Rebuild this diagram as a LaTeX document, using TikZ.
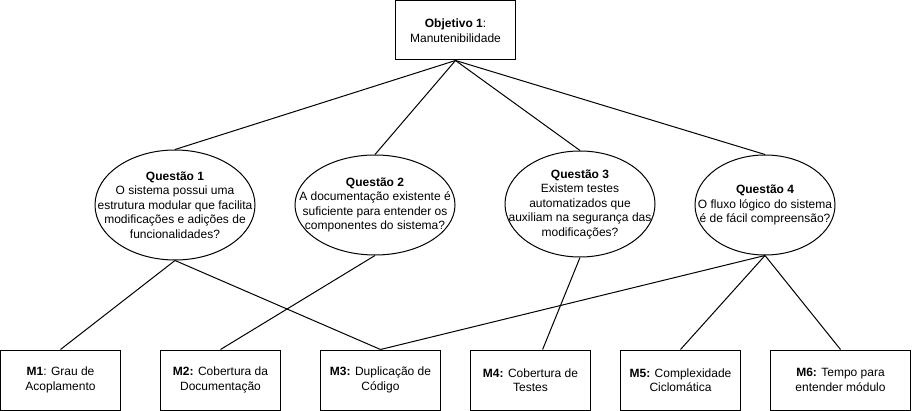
\documentclass[tikz,border=0pt]{standalone}
\usepackage{fontspec}
\setmainfont{Liberation Sans}
\usepackage{tikz}
\usetikzlibrary{positioning, shapes.geometric, calc}

\begin{document}
\begin{tikzpicture}[
    x=1pt, y=-1pt,
    every node/.style={font=\fontsize{12}{14.5}\selectfont, align=center},
    goal/.style={draw, line width=1pt, minimum width=120pt, minimum height=59pt, inner sep=0pt},
    quest/.style={draw, ellipse, line width=1pt, inner xsep=-60pt, inner ysep=-30pt},
    metric/.style={draw, line width=1pt, minimum width=120pt, minimum height=60pt, inner sep=0pt},
    link/.style={line width=1pt},
]
    \useasboundingbox (0,0) rectangle (912,411);
    \node[goal] (obj) at (455.5,30.5) {\textbf{Objetivo 1}:\\Manutenibilidade};

    \node[quest, minimum width=160pt, minimum height=110pt] (q1) at (175,205)
        {\textbf{Questão 1}\\O sistema possui uma\\estrutura modular que facilita\\modificações e adições de\\funcionalidades?};
    \node[quest, minimum width=160pt, minimum height=100pt] (q2) at (375,205)
        {\textbf{Questão 2}\\A documentação existente é\\suficiente para entender os\\componentes do sistema?};
    \node[quest, minimum width=150pt, minimum height=106pt] (q3) at (580,204)
        {\textbf{Questão 3}\\Existem testes\\automatizados que\\auxiliam na segurança das\\modificações?};
    \node[quest, minimum width=140pt, minimum height=100pt] (q4) at (765,205)
        {\textbf{Questão 4}\\O fluxo lógico do sistema\\é de fácil compreensão?};

    \node[metric] (m1) at (60.5,380) {\textbf{M1}: Grau de\\Acoplamento};
    \node[metric, right=39pt of m1] (m2) {\textbf{M2:} Cobertura da\\Documentação};
    \node[metric, right=39pt of m2] (m3) {\textbf{M3:} Duplicação de\\Código};
    \node[metric, right=29pt of m3] (m4) {\textbf{M4:} Cobertura de\\Testes};
    \node[metric, right=29pt of m4] (m5) {\textbf{M5:} Complexidade\\Ciclomática};
    \node[metric, right=29pt of m5, minimum width=140pt] (m6) {\textbf{M6:} Tempo para\\entender módulo};

    \draw[link] (obj.south) -- (q1.north);
    \draw[link] (obj.south) -- (q2.north);
    \draw[link] (obj.south) -- (q3.north);
    \draw[link] (obj.south) -- (q4.north);

    \draw[link] (q1.south) -- (m1.north);
    \draw[link] (q1.south) -- (m3.north);
    \draw[link] (q2.south) -- (m2.north);
    \draw[link] (q3.south) -- ($(m4.north west)!0.6!(m4.north east)$);
    \draw[link] (q4.south) -- (m3.north);
    \draw[link] (q4.south) -- (m5.north);
    \draw[link] (q4.south) -- (m6.north);
\end{tikzpicture}
\end{document}
